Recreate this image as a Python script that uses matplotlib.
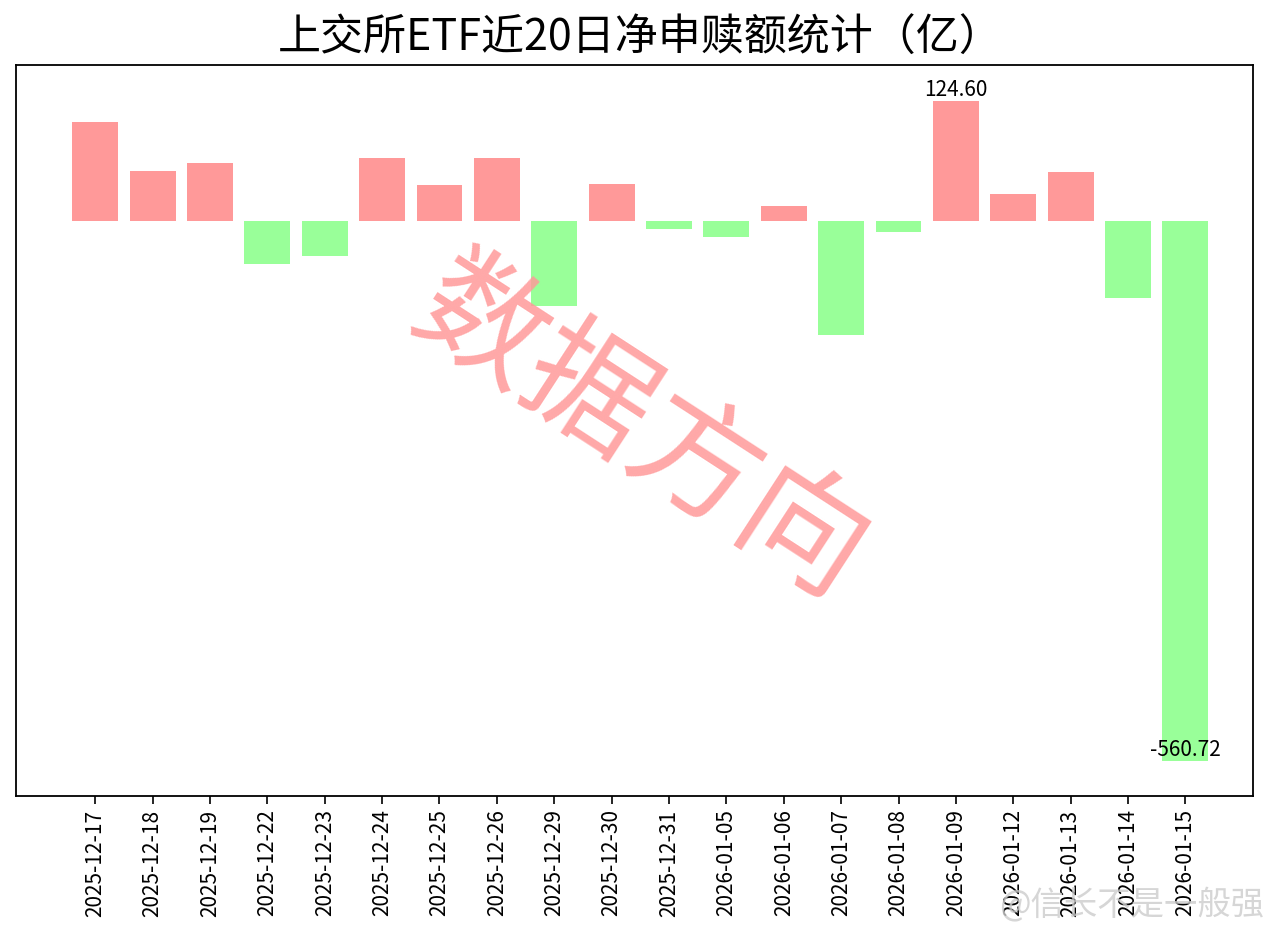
import numpy as np
import matplotlib
matplotlib.use('Agg')
import matplotlib.pyplot as plt

plt.rcParams['font.family'] = ['Noto Sans CJK SC', 'DejaVu Sans']
plt.rcParams['axes.unicode_minus'] = False

# Données : net subscription / redemption (亿)
dates = ['2025-12-17', '2025-12-18', '2025-12-19', '2025-12-22', '2025-12-23',
         '2025-12-24', '2025-12-25', '2025-12-26', '2025-12-29', '2025-12-30',
         '2025-12-31', '2026-01-05', '2026-01-06', '2026-01-07', '2026-01-08',
         '2026-01-09', '2026-01-12', '2026-01-13', '2026-01-14', '2026-01-15']
values = [102.3, 51.9, 60.2, -44.2, -36.2,
          65.1, 37.2, 65.1, -88.4, 38.3,
          -8.7, -16.4, 15.7, -118.0, -11.1,
          124.60, 28.2, 51.2, -80.1, -560.72]

pos_color = '#ff9999'
neg_color = '#99ff99'
colors = [pos_color if v >= 0 else neg_color for v in values]

fig = plt.figure(figsize=(12.8, 9.39), dpi=100)
ax = fig.add_axes([0.0125, 0.152, 0.9665, 0.779])

x = np.arange(len(dates))
ax.bar(x, values, width=0.8, color=colors)

# annotate max and min
i_max = int(np.argmax(values))
i_min = int(np.argmin(values))
for i in (i_max, i_min):
    ax.text(x[i], values[i], f'{values[i]:.2f}', ha='center', va='bottom',
            fontsize=15, color='black')

ax.set_xlim(-1.38, 20.18)
ax.set_ylim(-597, 162)
ax.set_xticks(x)
ax.set_xticklabels(dates, rotation=90, fontsize=15)
ax.tick_params(axis='x', length=6, width=1.2)
ax.set_yticks([])
for s in ax.spines.values():
    s.set_linewidth(1.3)

fig.suptitle('上交所ETF近20日净申赎额统计（亿）', fontsize=31, fontweight='medium',
             y=0.982, va='top')

# watermark
fig.text(0.5, 0.54, '数据方向', fontsize=92, color='#ff9999', alpha=0.85,
         rotation=-33, ha='center', va='center', rotation_mode='anchor')
fig.text(0.988, 0.036, '@信长不是一般强', fontsize=24, color='#cccccc',
         alpha=0.8, ha='right', va='center')

fig.savefig('out.png', dpi=100)
